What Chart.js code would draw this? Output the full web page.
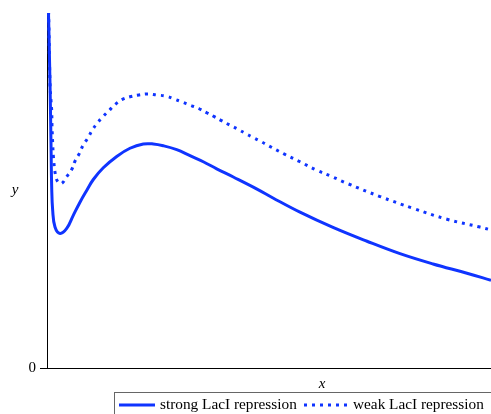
<!DOCTYPE html>
<html>
<head>
<meta charset="utf-8">
<script src="https://cdn.jsdelivr.net/npm/chart.js@4/dist/chart.umd.min.js"></script>
<style>
  html, body { margin: 0; padding: 0; background: #fff; }
  #wrap { width: 491px; height: 414px; }
</style>
</head>
<body>
<div id="wrap"><canvas id="plot"></canvas></div>
<script>
// curve samples (x 0..10, y 0..10 plot units)
const strongX = [0.025, 0.068, 0.09, 0.106, 0.128, 0.18, 0.293, 0.444, 0.592, 0.743, 0.894, 1.043, 1.268, 1.57, 1.869, 2.169, 2.394, 2.619, 2.921, 3.221, 3.52, 3.822, 4.196, 4.73, 5.09, 5.698, 6.441, 7.207, 7.95, 8.694, 9.459, 10];
const strongY = [10.5, 8.0, 6.33, 5.08, 4.44, 3.97, 3.79, 3.93, 4.3, 4.67, 5.0, 5.31, 5.64, 5.96, 6.19, 6.31, 6.31, 6.26, 6.15, 5.98, 5.81, 5.61, 5.38, 5.04, 4.79, 4.39, 3.96, 3.57, 3.22, 2.93, 2.67, 2.47];

const weakX = [0.03, 0.068, 0.09, 0.106, 0.113, 0.128, 0.146, 0.191, 0.248, 0.331, 0.444, 0.556, 0.631, 0.727, 0.818, 0.917, 1.014, 1.126, 1.261, 1.396, 1.532, 1.689, 1.869, 2.072, 2.275, 2.471, 2.673, 2.86, 3.047, 3.227, 3.417, 3.597, 3.768, 3.941, 4.122, 4.295, 4.466, 4.646, 4.82, 4.993, 5.338, 5.698, 6.059, 6.419, 6.779, 7.5, 8.243, 9.009, 9.752, 10];
const weakY = [10.5, 8.0, 7.53, 7.25, 6.81, 6.33, 5.92, 5.44, 5.24, 5.2, 5.39, 5.59, 5.83, 6.04, 6.29, 6.47, 6.69, 6.89, 7.08, 7.25, 7.42, 7.56, 7.64, 7.69, 7.72, 7.69, 7.66, 7.58, 7.49, 7.4, 7.31, 7.19, 7.08, 6.96, 6.84, 6.73, 6.61, 6.49, 6.38, 6.26, 6.03, 5.81, 5.58, 5.39, 5.19, 4.83, 4.5, 4.19, 3.97, 3.89];

const seriesNames = ['strong LacI repression', 'weak LacI repression'];
const yTicks = [0];

const blue = '#0f34ff';
const serif = '"Liberation Serif", "DejaVu Serif", serif';

function pts(xs, ys) {
    return xs.map((x, i) => ({ x: x, y: ys[i] }));
}

// axis letters + boxed legend, drawn the Maple way
const decorations = {
    id: 'decorations',
    afterDraw(chart) {
        const ctx = chart.ctx;
        ctx.save();
        ctx.fillStyle = '#000';
        ctx.font = 'italic 15px ' + serif;
        ctx.textAlign = 'center';
        ctx.textBaseline = 'middle';
        ctx.fillText('y', 15, 190);
        ctx.fillText('x', 322, 384);

        // legend box
        ctx.strokeStyle = '#666';
        ctx.lineWidth = 1;
        ctx.strokeRect(114.5, 392.5, 390, 30);

        const yMid = 405;
        ctx.strokeStyle = blue;
        ctx.lineWidth = 3;
        ctx.beginPath();
        ctx.moveTo(119, yMid);
        ctx.lineTo(155, yMid);
        ctx.stroke();

        ctx.setLineDash([3, 5]);
        ctx.beginPath();
        ctx.moveTo(304, yMid);
        ctx.lineTo(350, yMid);
        ctx.stroke();
        ctx.setLineDash([]);

        ctx.fillStyle = '#000';
        ctx.font = '15.3px ' + serif;
        ctx.textAlign = 'left';
        ctx.fillText(seriesNames[0], 160, yMid);
        ctx.fillText(seriesNames[1], 353, yMid);
        ctx.restore();
    }
};

new Chart(document.getElementById('plot'), {
    type: 'scatter',
    data: {
        datasets: [{
            label: seriesNames[0],
            data: pts(strongX, strongY),
            showLine: true,
            borderColor: blue,
            borderWidth: 3,
            pointRadius: 0,
            tension: 0.4
        }, {
            label: seriesNames[1],
            data: pts(weakX, weakY),
            showLine: true,
            borderColor: blue,
            borderWidth: 3,
            borderDash: [3, 5],
            pointRadius: 0,
            tension: 0.4
        }]
    },
    options: {
        responsive: true,
        maintainAspectRatio: false,
        animation: false,
        layout: { padding: { top: 8, right: 0, left: 0, bottom: 0 } },
        scales: {
            x: {
                type: 'linear',
                min: 0,
                max: 10,
                grid: { display: false },
                border: { display: true, color: '#000', width: 1 },
                ticks: { display: false },
                afterFit: s => { s.height = 46; }
            },
            y: {
                type: 'linear',
                min: 0,
                max: 10,
                afterBuildTicks: s => { s.ticks = yTicks.map(v => ({ value: v })); },
                grid: { display: true, drawOnChartArea: false, drawTicks: true, tickLength: 7, color: '#000' },
                border: { display: true, color: '#000', width: 1 },
                ticks: { color: '#000', padding: 4, font: { family: serif, size: 15 } },
                afterFit: s => { s.width = 47; }
            }
        },
        plugins: {
            legend: { display: false },
            tooltip: { enabled: false }
        }
    },
    plugins: [decorations]
});
</script>
</body>
</html>
